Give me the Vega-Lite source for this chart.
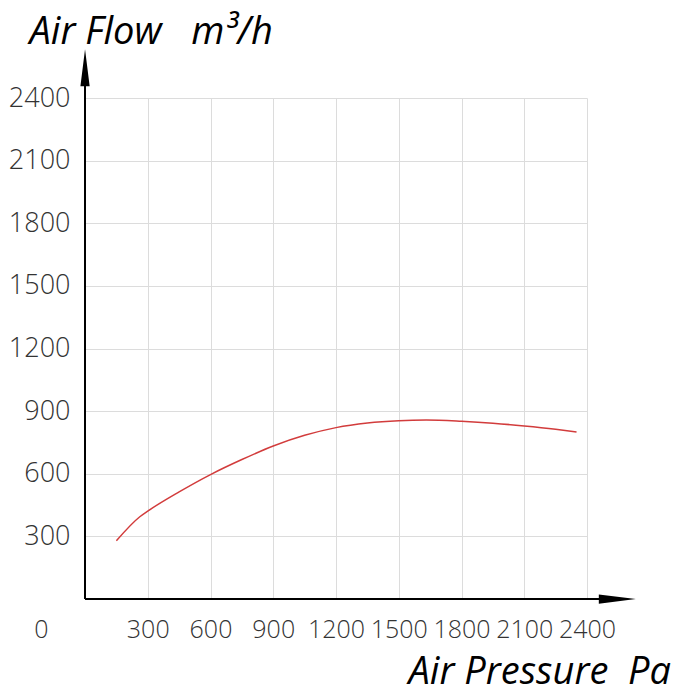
{
  "$schema": "https://vega.github.io/schema/vega-lite/v6.json",
  "width": 502,
  "height": 501,
  "autosize": "none",
  "padding": {"left": 85, "top": 98, "right": 113, "bottom": 101},
  "background": "white",
  "config": {"view": {"stroke": null}},
  "datasets": {
    "curve": [
      {"pressure": 150, "flow": 279},
      {"pressure": 262, "flow": 394},
      {"pressure": 300, "flow": 421},
      {"pressure": 450, "flow": 513},
      {"pressure": 600, "flow": 596},
      {"pressure": 750, "flow": 668},
      {"pressure": 900, "flow": 733},
      {"pressure": 1050, "flow": 784},
      {"pressure": 1200, "flow": 821},
      {"pressure": 1350, "flow": 843},
      {"pressure": 1500, "flow": 854},
      {"pressure": 1632, "flow": 857},
      {"pressure": 1800, "flow": 851},
      {"pressure": 1950, "flow": 842},
      {"pressure": 2100, "flow": 829},
      {"pressure": 2250, "flow": 813},
      {"pressure": 2350, "flow": 800}
    ],
    "axes": [
      {"x": 0, "y": 0, "x2": 2545, "y2": 0},
      {"x": 0, "y": 0, "x2": 0, "y2": 2545}
    ]
  },
  "layer": [
    {
      "data": {"name": "curve"},
      "mark": {"type": "line", "color": "#d23c3c", "strokeWidth": 1.5, "interpolate": "monotone"},
      "encoding": {
        "x": {
          "field": "pressure", "type": "quantitative",
          "scale": {"domain": [0, 2400], "nice": false},
          "axis": {
            "values": [0, 300, 600, 900, 1200, 1500, 1800, 2100, 2400],
            "format": "d",
            "domain": false, "ticks": false, "tickSize": 0,
            "grid": true, "gridColor": "#dcdcdc", "gridWidth": 1,
            "labelFont": "Open Sans", "labelFontSize": 25, "labelFontWeight": 300, "labelColor": "#333333",
            "labelPadding": 30, "labelBaseline": "middle",
            "labelOffset": {"condition": {"test": "datum.value == 0", "value": -44}, "value": 0},
            "labelOverlap": false, "labelFlush": false,
            "title": "Air Pressure\u00a0 Pa",
            "titleFont": "Open Sans", "titleFontStyle": "italic", "titleFontWeight": "normal",
            "titleFontSize": 38, "titleColor": "#000000",
            "titleAnchor": null, "titleAlign": "left", "titleBaseline": "alphabetic",
            "titleX": 323, "titleY": 84
          }
        },
        "y": {
          "field": "flow", "type": "quantitative",
          "scale": {"domain": [0, 2400], "nice": false},
          "axis": {
            "values": [300, 600, 900, 1200, 1500, 1800, 2100, 2400],
            "format": "d",
            "domain": false, "ticks": false, "tickSize": 0,
            "grid": true, "gridColor": "#dcdcdc", "gridWidth": 1,
            "labelFont": "Open Sans", "labelFontSize": 27, "labelFontWeight": 300, "labelColor": "#333333",
            "labelPadding": 15,
            "labelOverlap": false, "labelFlush": false,
            "title": "Air Flow\u00a0\u00a0 m³/h",
            "titleFont": "Open Sans", "titleFontStyle": "italic", "titleFontWeight": "normal",
            "titleFontSize": 38, "titleColor": "#000000",
            "titleAngle": 0, "titleAnchor": null, "titleAlign": "left", "titleBaseline": "alphabetic",
            "titleX": -56, "titleY": -55
          }
        }
      }
    },
    {
      "data": {"name": "axes"},
      "mark": {"type": "rule", "color": "#000000", "strokeWidth": 2},
      "encoding": {
        "x": {"field": "x", "type": "quantitative"},
        "y": {"field": "y", "type": "quantitative"},
        "x2": {"field": "x2"},
        "y2": {"field": "y2"}
      }
    },
    {
      "data": {"values": [{"x": 0, "y": 2545}]},
      "mark": {"type": "point", "shape": "M0,-1L0.25,1L-0.25,1Z", "filled": true, "color": "#000000", "opacity": 1, "size": 1369, "strokeWidth": 0},
      "encoding": {
        "x": {"field": "x", "type": "quantitative"},
        "y": {"field": "y", "type": "quantitative"}
      }
    },
    {
      "data": {"values": [{"x": 2545, "y": 0}]},
      "mark": {"type": "point", "shape": "M0,-1L0.25,1L-0.25,1Z", "angle": 90, "filled": true, "color": "#000000", "opacity": 1, "size": 1369, "strokeWidth": 0},
      "encoding": {
        "x": {"field": "x", "type": "quantitative"},
        "y": {"field": "y", "type": "quantitative"}
      }
    }
  ]
}
